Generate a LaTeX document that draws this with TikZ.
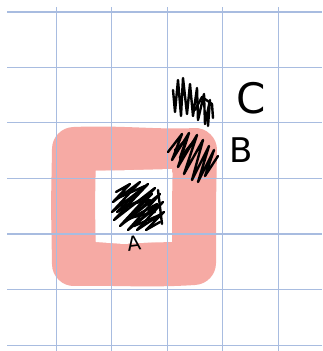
\documentclass[tikz,border=0pt]{standalone}
\usepackage{fontspec}
\setsansfont{DejaVu Sans}
\begin{document}
\begin{tikzpicture}[x=1pt,y=-1pt,
  gridline/.style={draw={rgb,255:red,168;green,188;blue,224},line width=1.1pt},
  ring/.style={draw={rgb,255:red,246;green,170;blue,164},line width=44pt,line join=round,line cap=round},
  scribble/.style={draw=black,line width=2.4pt,line join=round,line cap=round},
  lab/.style={inner sep=0pt}]
\useasboundingbox (0,0) rectangle (322,351);
\fill[white] (0,0) rectangle (322,351);
% pink ring
\draw[ring] (74,149) .. controls (120,147) and (160,152) .. (195,150)
  -- (194,205) -- (194,263) .. controls (150,266) and (110,263) .. (74,264)
  -- (73,205) -- cycle;
% inner white hole
\fill[white] (96,171) -- (172,169) -- (171,241) -- (124,244) -- (96,242) -- cycle;
% grid
\foreach \y in {12,67.3,122.7,178.3,234,289.7,345.3}
  \draw[gridline] (7,\y) -- (322,\y);
\foreach \x in {56.3,111.7,167.2,222.7,278.2}
  \draw[gridline] (\x,7) -- (\x,351);
% C patch
\draw[scribble] (173,90) -- (175,112) -- (178,80) -- (181,116) -- (183,78) -- (187,114)
  -- (190,84) -- (193,116) -- (197,88) -- (198,120) -- (204,94) -- (205,124) -- (210,100) -- (208,126);
\draw[scribble] (195,110) -- (202,97) -- (212,104) -- (213,118);
% B patch
\draw[scribble] (168,152) -- (182,134) -- (172,160) -- (189,133) -- (178,167) -- (197,135)
  -- (184,174) -- (203,140) -- (192,180) -- (209,146) -- (198,182) -- (214,150) -- (205,176) -- (218,156);
\draw[scribble] (175,150) -- (186,140) -- (180,158) -- (193,142);
% A patch
\draw[scribble] (116,192) -- (130,184) -- (113,202) -- (140,182) -- (112,212) -- (148,184)
  -- (114,220) -- (155,188) -- (120,226) -- (160,194) -- (128,230) -- (163,202)
  -- (137,230) -- (164,212) -- (146,230) -- (160,222);
\draw[scribble] (118,198) -- (145,186) -- (117,212) -- (152,194) -- (124,222) -- (157,204) -- (134,226) -- (162,214);
\draw[scribble] (158,190) -- (162,224);
\draw[scribble] (122,206) -- (150,200) -- (130,218) -- (155,212);
% labels
\node[lab,font=\sffamily\fontsize{42}{42}\selectfont] (C) at (251,98) {C};
\node[lab,font=\sffamily\fontsize{34}{34}\selectfont] (B) at (241,150) {B};
\node[lab,font=\sffamily\fontsize{20}{20}\selectfont,rotate=8] (A) at (134,243) {A};
\end{tikzpicture}
\end{document}
